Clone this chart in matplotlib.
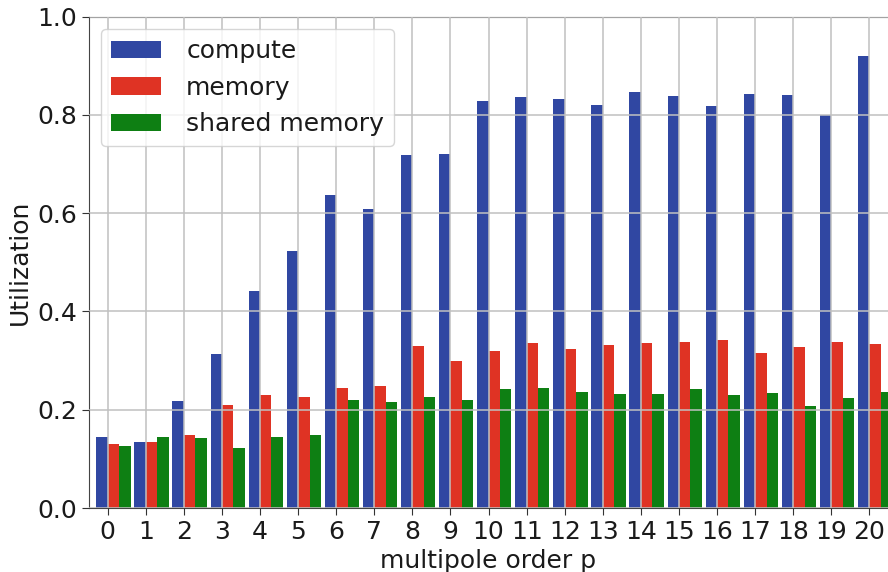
import numpy as np
import matplotlib
matplotlib.use("Agg")
import matplotlib.pyplot as plt
from matplotlib.ticker import FormatStrFormatter

# multipole orders
orders = list(range(21))

# utilization
compute = [0.145, 0.134, 0.218, 0.313, 0.442, 0.523, 0.637, 0.609, 0.719, 0.721,
           0.828, 0.836, 0.832, 0.820, 0.847, 0.838, 0.818, 0.843, 0.841, 0.800, 0.920]
memory = [0.130, 0.134, 0.149, 0.210, 0.230, 0.226, 0.244, 0.248, 0.330, 0.299,
          0.320, 0.336, 0.324, 0.332, 0.336, 0.338, 0.342, 0.316, 0.328, 0.338, 0.334]
shared = [0.126, 0.145, 0.143, 0.122, 0.145, 0.149, 0.220, 0.216, 0.226, 0.220,
          0.242, 0.244, 0.236, 0.232, 0.232, 0.242, 0.230, 0.234, 0.208, 0.224, 0.236]

labels = ['compute', 'memory', 'shared memory']
colors = ['#3047a2', '#df3324', '#0e7f13']

fig = plt.figure(figsize=(8.88, 5.72), dpi=100)
ax = fig.add_axes([88.7 / 888, 64 / 572, 799.7 / 888, 491.3 / 572])

x = np.arange(len(orders))
w = 0.3
for i, (vals, lab, col) in enumerate(zip([compute, memory, shared], labels, colors)):
    # blue left of the tick, red and green to the right
    ax.bar(x + (i - 1) * w, vals, width=w, align='edge', color=col, label=lab, zorder=1)

ax.set_xlim(-0.5, 20.5)
ax.set_ylim(0, 1.0)
ax.set_xticks(x)
ax.set_xticklabels([str(o) for o in orders])
ax.set_yticks(np.arange(0, 1.01, 0.2))
ax.yaxis.set_major_formatter(FormatStrFormatter('%.1f'))
ax.tick_params(labelsize=18, length=5, color='#333333', labelcolor='#1a1a1a')
ax.set_xlabel('multipole order p', fontsize=18, color='#1a1a1a')
ax.set_ylabel('Utilization', fontsize=18, color='#1a1a1a')

ax.grid(True, color='#c0c0c0', linewidth=1.3, alpha=0.85, zorder=3)
ax.set_axisbelow(False)
for s in ['left', 'bottom', 'top']:
    ax.spines[s].set_color('#444444')
ax.spines['right'].set_visible(False)

leg = ax.legend(loc='upper left', fontsize=18, handletextpad=1.0)
for t in leg.get_texts():
    t.set_color('#1a1a1a')

fig.savefig('out.png', dpi=100)
